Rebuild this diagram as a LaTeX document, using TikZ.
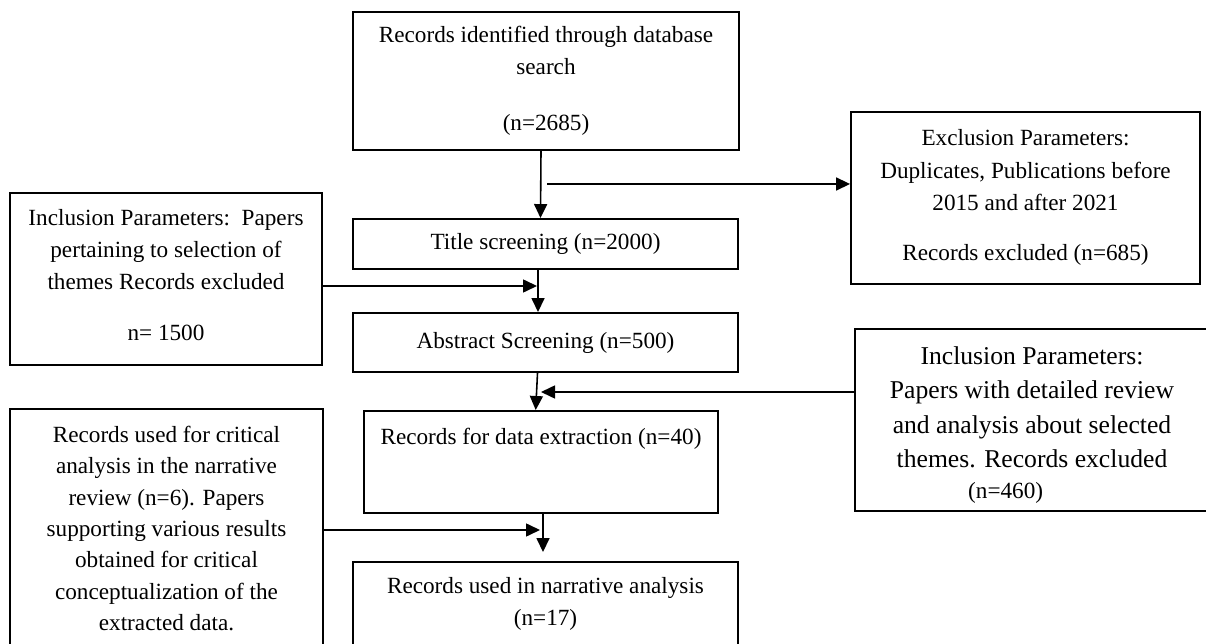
\documentclass[tikz,border=0pt]{standalone}
\usepackage{fontspec}
\setmainfont{Liberation Serif}
\usetikzlibrary{positioning,arrows.meta,calc}

\begin{document}
\begin{tikzpicture}[x=0.02cm, y=-0.02cm, font=\fontsize{13.2}{17.9}\selectfont,
      b/.style={draw, line width=1.1pt, align=center, inner sep=0pt},
      t/.style={-{Triangle[length=0.28cm, width=0.26cm]}, line width=0.9pt}]

    \useasboundingbox (0,0) rectangle (1206,644);
    \clip (0,0) rectangle (1206,644);

    % Columna central
    \node[b, minimum width=7.72cm, minimum height=2.76cm] (rid) at (546,81)
      {Records identified through database\\search\\[14pt](n=2685)};
    \node[b, minimum width=7.7cm, minimum height=1cm] (tit) at (545.5,244)
      {Title screening (n=2000)};
    \node[b, minimum width=7.7cm, minimum height=1.18cm] (abs) at (545.5,342.5)
      {Abstract Screening (n=500)};
    \node[b, minimum width=7.08cm, text height=0.68cm, text depth=1.36cm, anchor=north] (dat)
      at (541,410) {Records for data extraction (n=40)};
    \node[b, minimum width=7.7cm, minimum height=1.68cm] (nar) at (545.5,604)
      {Records used in narrative analysis\\(n=17)};

    % Cajas laterales
    \node[b, minimum width=6.98cm, minimum height=3.44cm,
          font=\fontsize{13.2}{18.5}\selectfont] (exc) at (1025.5,198)
      {Exclusion Parameters:\\Duplicates, Publications before\\2015 and after 2021\\[10pt]Records excluded (n=685)\rule[-3.4pt]{0pt}{0pt}};
    \node[b, minimum width=6.24cm, minimum height=3.44cm,
          font=\fontsize{13.2}{18.2}\selectfont] (inc1) at (166,279)
      {Inclusion Parameters:\ \ Papers\\pertaining to selection of\\themes Records excluded\\[11pt]n= 1500\rule[-4.6pt]{0pt}{0pt}};
    \node[b, minimum width=7.08cm, minimum height=3.64cm,
          font=\fontsize{14.6}{19.6}\selectfont] (inc2) at (1032,420)
      {\rule{0pt}{16pt}Inclusion Parameters:\\Papers with detailed review\\and analysis about selected\\themes. Records excluded\\[-2pt]{\fontsize{13.2}{17.9}\selectfont(n=460)}\hspace*{30pt}};
    \node[b, minimum width=6.26cm, minimum height=4.78cm] (rec) at (166.5,528.5)
      {Records used for critical\\analysis in the narrative\\review (n=6). Papers\\supporting various results\\obtained for critical\\conceptualization of the\\extracted data.};

    % Flujo principal
    \draw[t] ([xshift=-0.1cm]rid.south) -- ([xshift=-0.1cm]tit.north);
    \draw[t] ([xshift=-0.15cm]tit.south) -- ([xshift=-0.15cm]abs.north);
    \draw[t] ([xshift=-0.16cm]abs.south) -- ([xshift=-0.106cm]dat.north);
    \draw[t, shorten >=0.18cm] ([xshift=0.04cm]dat.south) -- ([xshift=-0.05cm]nar.north);

    % Entradas y salidas laterales
    \coordinate (j1) at (547,184);
    \draw[t] (j1) -- (j1 -| exc.west);
    \coordinate (j2) at (537,286);
    \draw[t] (j2 -| inc1.east) -- (j2);
    \coordinate (j3) at (541,392);
    \draw[t] (j3 -| inc2.west) -- (j3);
    \coordinate (j4) at (540,530);
    \draw[t] (j4 -| rec.east) -- (j4);
  \end{tikzpicture}
\end{document}
